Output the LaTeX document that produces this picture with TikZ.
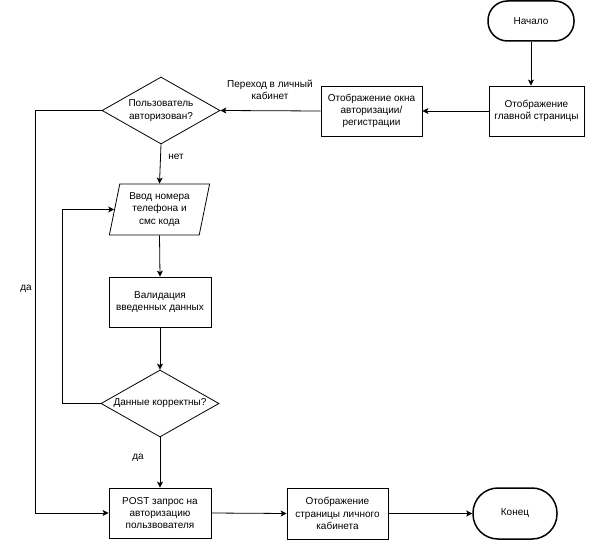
\documentclass[tikz,border=0pt]{standalone}
\usepackage{fontspec}
\setmainfont{Liberation Sans}
\usetikzlibrary{shapes.geometric,arrows.meta,calc}
\tikzset{
  base/.style={draw, line width=0.8pt, align=center, inner sep=1pt, font=\fontsize{10}{12.3}\selectfont},
  procbox/.style={base, rectangle, minimum width=#1, minimum height=50},
  term/.style={base, line width=1.5pt, rectangle, rounded corners=19.5, minimum width=#1, minimum height=40},
  decision/.style={base, diamond, minimum width=118, minimum height=67, inner sep=0pt},
  inputbox/.style={base, trapezium, trapezium left angle=77, trapezium right angle=103, trapezium stretches=true, minimum width=101, minimum height=51},
  conn/.style={line width=0.8pt, -{Stealth[length=6pt,width=6pt,inset=1.5pt]}},
  lbl/.style={font=\fontsize{10}{12.3}\selectfont, align=center, inner sep=0pt}
}
\begin{document}
\begin{tikzpicture}[x=1pt,y=-1pt]
\useasboundingbox (0,0) rectangle (592,540);
\node[term=86] (start) at (531,21) {Начало};
\node[procbox=95] (main) at (536.5,111) {Отображение\\главной страницы};
\node[procbox=101] (authw) at (371.5,111) {Отображение окна\\авторизации/\\регистрации};
\node[decision] (d1) at (161,110.5) {};
\node[lbl] (d1t) at (d1) {Пользователь\\авторизован?};
\node[inputbox] (inp) at (159.5,209.5) {Ввод номера\\телефона и\\смс кода};
\node[procbox=102] (valid) at (160,302) {Валидация\\введенных данных};
\node[decision] (d2) at (160,403.5) {};
\node[lbl] (d2t) at (d2) {Данные корректны?};
\node[procbox=102] (post) at (160,513) {POST запрос на\\авторизацию\\пользвователя};
\node[procbox=101, minimum height=51] (disp) at (337.5,513.5) {Отображение\\страницы личного\\кабинета};
\node[term=84, minimum height=51, rounded corners=25] (end) at (515,513.5) {Конец};
\coordinate (lx) at (35,0);
\coordinate (lx2) at (62,0);
\draw[conn] (start.south) -- (start.south |- main.north);
\draw[conn] (main.west) -- (authw.east);
\draw[conn] (authw.west) -- (d1.east);
\node[lbl] (l1) at (270,90) {Переход в личный\\кабинет};
\draw[conn] (d1.west) -- (d1.west -| lx) |- (post.west);
\node[lbl] (l2) at (26,289) {да};
\draw[conn] (d1.south) -- (inp.north);
\node[lbl] (l3) at (176,157) {нет};
\draw[conn] (inp.south) -- (valid.north);
\draw[conn] (valid.south) -- (d2.north);
\draw[conn] (d2.west) -- (d2.west -| lx2) |- (inp.west);
\draw[conn] (d2.south) -- (post.north);
\node[lbl] (l4) at (138,458) {да};
\draw[conn] (post.east) -- (disp.west);
\draw[conn] (disp.east) -- (end.west);
\end{tikzpicture}
\end{document}
